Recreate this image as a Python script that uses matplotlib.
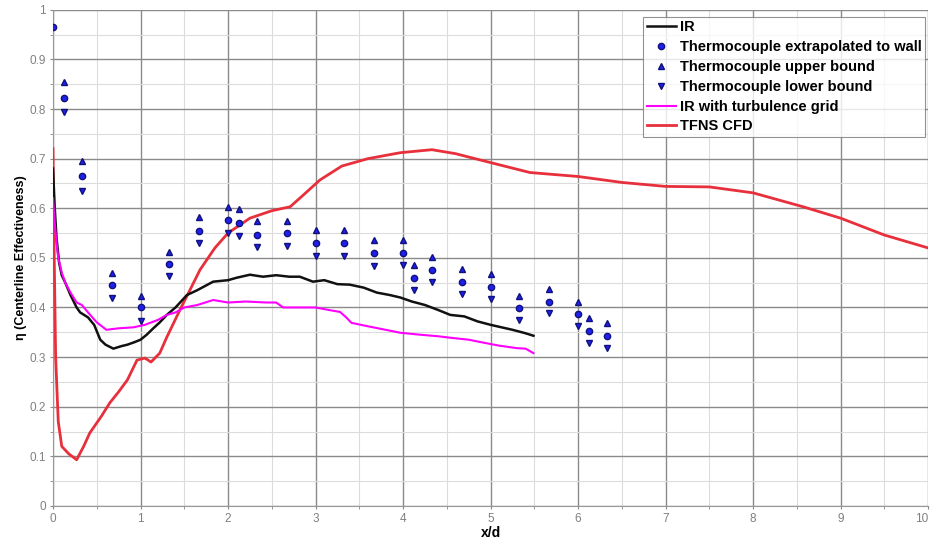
import numpy as np
import matplotlib
matplotlib.use('Agg')
import matplotlib.pyplot as plt
from matplotlib.ticker import MultipleLocator, FuncFormatter

plt.rcParams['font.family'] = ['Liberation Sans', 'DejaVu Sans']

# thermocouple data (x/d, eta)
x_tc = [0.0, 0.12, 0.33, 0.67, 1.0, 1.33, 1.67, 2.0, 2.13, 2.33, 2.67, 3.0,
        3.33, 3.67, 4.0, 4.13, 4.33, 4.67, 5.0, 5.33, 5.67, 6.0, 6.13, 6.33]
tc_wall = [0.965, 0.823, 0.665, 0.445, 0.40, 0.488, 0.555, 0.577, 0.570, 0.546, 0.550, 0.530,
           0.530, 0.510, 0.510, 0.460, 0.476, 0.452, 0.442, 0.399, 0.411, 0.387, 0.353, 0.343]
tc_upper = [np.nan, 0.855, 0.695, 0.47, 0.423, 0.512, 0.583, 0.603, 0.599, 0.575, 0.575, 0.556,
            0.556, 0.536, 0.536, 0.486, 0.502, 0.478, 0.468, 0.423, 0.437, 0.411, 0.379, 0.369]
tc_lower = [np.nan, 0.794, 0.635, 0.42, 0.373, 0.464, 0.530, 0.551, 0.544, 0.522, 0.524, 0.504,
            0.504, 0.484, 0.486, 0.435, 0.452, 0.427, 0.417, 0.375, 0.389, 0.363, 0.329, 0.319]

# IR
x_ir = [0, 0.02, 0.04, 0.07, 0.1, 0.14, 0.2, 0.27, 0.31, 0.4, 0.47, 0.54, 0.6, 0.69, 0.78,
        0.85, 0.93, 1.0, 1.07, 1.14, 1.22, 1.3, 1.4, 1.53, 1.65, 1.83, 2.0, 2.1, 2.25, 2.4,
        2.55, 2.7, 2.82, 2.97, 3.1, 3.25, 3.39, 3.55, 3.7, 3.85, 3.97, 4.1, 4.25, 4.4, 4.54,
        4.7, 4.85, 5.0, 5.1, 5.25, 5.4, 5.49]
y_ir = [0.68, 0.60, 0.54, 0.49, 0.465, 0.45, 0.425, 0.40, 0.39, 0.38, 0.365, 0.335, 0.325,
        0.317, 0.322, 0.325, 0.33, 0.335, 0.345, 0.357, 0.37, 0.385, 0.40, 0.425, 0.435, 0.452,
        0.455, 0.46, 0.466, 0.462, 0.465, 0.462, 0.462, 0.452, 0.455, 0.447, 0.446, 0.44, 0.43,
        0.425, 0.42, 0.412, 0.405, 0.395, 0.385, 0.382, 0.372, 0.365, 0.361, 0.355, 0.348, 0.343]

# IR with turbulence grid
x_grid = [0, 0.02, 0.04, 0.06, 0.1, 0.14, 0.2, 0.27, 0.33, 0.4, 0.5, 0.61, 0.75, 0.92, 1.05,
          1.2, 1.3, 1.4, 1.5, 1.65, 1.83, 2.0, 2.2, 2.44, 2.55, 2.63, 2.82, 3.0, 3.15, 3.28,
          3.35, 3.41, 3.6, 3.8, 3.97, 4.2, 4.4, 4.54, 4.75, 4.95, 5.1, 5.3, 5.4, 5.49]
y_grid = [0.62, 0.57, 0.53, 0.50, 0.47, 0.45, 0.43, 0.41, 0.405, 0.39, 0.37, 0.355, 0.358,
          0.36, 0.365, 0.375, 0.385, 0.39, 0.40, 0.405, 0.415, 0.41, 0.412, 0.41, 0.41, 0.40,
          0.40, 0.40, 0.395, 0.391, 0.38, 0.369, 0.362, 0.355, 0.349, 0.345, 0.342, 0.339,
          0.335, 0.328, 0.323, 0.318, 0.317, 0.308]

# TFNS CFD
x_cfd = [0, 0.01, 0.03, 0.06, 0.1, 0.18, 0.27, 0.35, 0.42, 0.55, 0.65, 0.75, 0.85, 0.96,
         1.05, 1.12, 1.22, 1.3, 1.45, 1.55, 1.68, 1.85, 2.0, 2.25, 2.5, 2.71, 2.85, 3.05,
         3.3, 3.6, 3.97, 4.33, 4.6, 5.0, 5.45, 6.0, 6.5, 7.0, 7.5, 8.0, 8.57, 9.0, 9.5, 10.0]
y_cfd = [0.72, 0.55, 0.3, 0.17, 0.12, 0.105, 0.093, 0.12, 0.147, 0.18, 0.208, 0.23, 0.254,
         0.294, 0.298, 0.29, 0.308, 0.34, 0.395, 0.43, 0.476, 0.52, 0.55, 0.58, 0.595, 0.603,
         0.625, 0.657, 0.685, 0.70, 0.712, 0.718, 0.71, 0.692, 0.672, 0.664, 0.652, 0.644,
         0.643, 0.631, 0.603, 0.58, 0.546, 0.52]

fig = plt.figure(figsize=(9.3, 5.44), dpi=100)
ax = fig.add_axes([0.057, 0.070, 0.941, 0.912])

blue = '#2020ee'
ax.plot(x_ir, y_ir, color='#111111', lw=1.8, label='IR', zorder=4)
ax.plot(x_tc, tc_wall, 'o', color=blue, mec='#10107a', ms=4.5, ls='none',
        label='Thermocouple extrapolated to wall', zorder=5)
ax.plot(x_tc, tc_upper, '^', color=blue, mec='#10107a', ms=5, ls='none',
        label='Thermocouple upper bound', zorder=5)
ax.plot(x_tc, tc_lower, 'v', color=blue, mec='#10107a', ms=5, ls='none',
        label='Thermocouple lower bound', zorder=5)
ax.plot(x_grid, y_grid, color='#ff00ff', lw=1.5, label='IR with turbulence grid', zorder=4)
ax.plot(x_cfd, y_cfd, color='#e8303c', lw=2.0, label='TFNS CFD', zorder=3)

ax.set_xlim(0, 10)
ax.set_ylim(0, 1)
ax.xaxis.set_major_locator(MultipleLocator(1))
ax.xaxis.set_minor_locator(MultipleLocator(0.5))
ax.yaxis.set_major_locator(MultipleLocator(0.1))
ax.yaxis.set_minor_locator(MultipleLocator(0.05))
fmt = FuncFormatter(lambda v, p: '%g' % round(v, 3))
ax.xaxis.set_major_formatter(fmt)
ax.yaxis.set_major_formatter(fmt)

ax.grid(which='major', color='#8a8a8a', lw=1.0)
ax.grid(which='minor', color='#dcdcdc', lw=0.8)
ax.set_axisbelow(True)
ax.tick_params(which='both', length=2, color='#888888', labelcolor='#808080',
               labelsize=8.5, pad=3)
for s in ax.spines.values():
    s.set_color('#999999')
ax.spines['top'].set_visible(False)
ax.spines['right'].set_visible(False)

ax.set_xlabel('x/d', fontsize=10, fontweight='bold', labelpad=1)
ax.set_ylabel('η (Centerline Effectiveness)', fontsize=9, fontweight='bold', labelpad=2)

leg = ax.legend(loc='upper right', bbox_to_anchor=(1.0, 0.992),
                prop={'weight': 'bold', 'size': 10.5}, frameon=True, fancybox=False,
                handlelength=2.0, handletextpad=0.27, labelspacing=0.4,
                borderpad=0.25, borderaxespad=0.2)
leg.get_frame().set_edgecolor('#777777')
leg.get_frame().set_linewidth(0.8)

fig.canvas.draw()
# keep the last x tick label ("10") inside the picture
xlabels = [t for t in ax.get_xticklabels() if t.get_text() == '10']
for t in xlabels:
    t.set_horizontalalignment('right')

fig.savefig('out.png', dpi=100)
